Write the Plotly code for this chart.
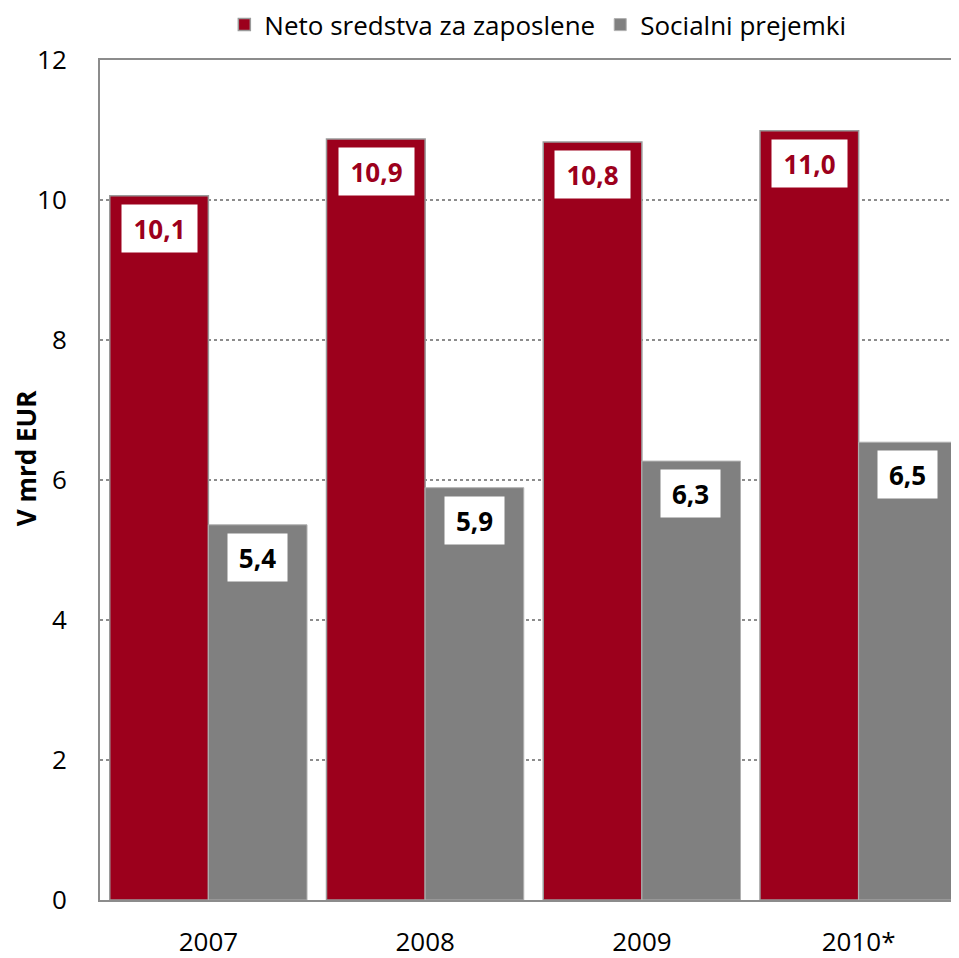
import plotly.graph_objects as go

years = ["2007", "2008", "2009", "2010*"]
neto = [10.06, 10.87, 10.83, 10.99]
socialni = [5.36, 5.89, 6.27, 6.54]
neto_labels = ["10,1", "10,9", "10,8", "11,0"]
socialni_labels = ["5,4", "5,9", "6,3", "6,5"]
y_ticks = [0, 2, 4, 6, 8, 10, 12]

RED = "#9C001C"
GRAY = "#808080"
AXIS = "#8c8c8c"
FONT = "Open Sans"

fig = go.Figure()
fig.add_trace(go.Bar(name="Neto sredstva za zaposlene", x=years, y=neto,
                     marker=dict(color=RED, line=dict(color="#9a9a9a", width=1.5))))
fig.add_trace(go.Bar(name="Socialni prejemki", x=years, y=socialni,
                     marker=dict(color=GRAY, line=dict(color="#b0b0b0", width=1))))

for i, (v, lab) in enumerate(zip(neto, neto_labels)):
    fig.add_annotation(x=i, y=v, text="<b>%s</b>" % lab, xref="x", yref="y",
                       xshift=-49, yshift=-8, yanchor="top", xanchor="center",
                       showarrow=False, bgcolor="white", width=73, height=45,
                       font=dict(family=FONT, size=26, color=RED))
for i, (v, lab) in enumerate(zip(socialni, socialni_labels)):
    fig.add_annotation(x=i, y=v, text="<b>%s</b>" % lab, xref="x", yref="y",
                       xshift=49, yshift=-8, yanchor="top", xanchor="center",
                       showarrow=False, bgcolor="white", width=57, height=45,
                       font=dict(family=FONT, size=26, color="black"))

# y-axis title
fig.add_annotation(x=-0.0853, y=0.526, xref="paper", yref="paper", text="<b>V mrd EUR</b>",
                   textangle=-90, showarrow=False, xanchor="center", yanchor="middle",
                   font=dict(family=FONT, size=26, color="black"))

fig.update_layout(
    width=959, height=958,
    margin=dict(l=92, r=0, t=52, b=66, autoexpand=False),
    paper_bgcolor="white", plot_bgcolor="white",
    barmode="group", bargap=0.09, bargroupgap=0,
    font=dict(family=FONT, size=24, color="black"),
    legend=dict(orientation="h", x=0.505, xanchor="center", y=1.042, yanchor="middle",
                font=dict(size=26), traceorder="normal"),
    showlegend=True,
)
fig.update_xaxes(type="category", range=[-0.5, 3.5], showline=True, linecolor=AXIS,
                 linewidth=2, mirror=True, ticks="", showgrid=False, automargin=False,
                 tickfont=dict(size=26), ticklabelstandoff=18)
fig.update_yaxes(range=[0, 12], tickvals=y_ticks, showline=True, linecolor=AXIS,
                 linewidth=2, ticks="", showgrid=True, gridcolor=AXIS, griddash="dot",
                 gridwidth=1.5, zeroline=False, tickfont=dict(size=26), ticklabelstandoff=26,
                 automargin=False)

fig.write_html("out.html")
